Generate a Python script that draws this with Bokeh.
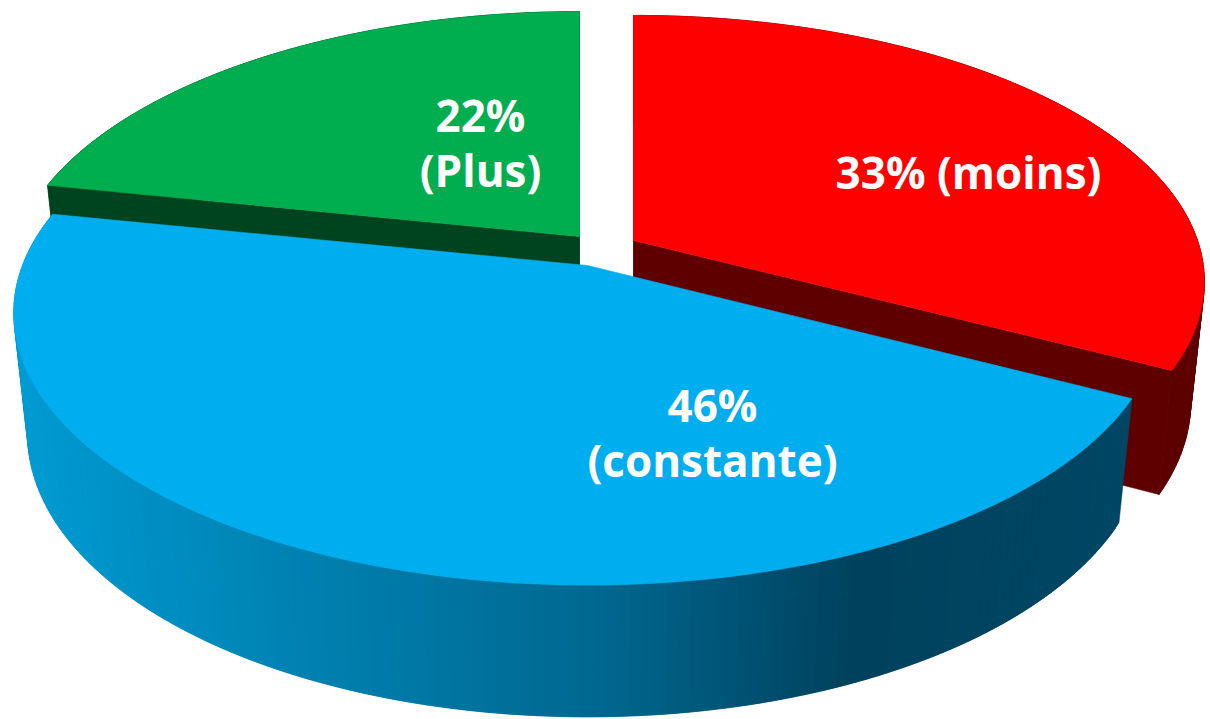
import numpy as np
from bokeh.plotting import figure
from bokeh.embed import file_html
from bokeh.resources import INLINE
from bokeh.core.properties import value

# data
categories = ["moins", "constante", "Plus"]
shares = [33, 46, 22]
top_colors = ["#FF0000", "#00AEEF", "#00AD4F"]
wall_colors = ["#5E0000", "#004A68", "#00441F"]
label_lines = [["33% (moins)"], ["46%", "(constante)"], ["22%", "(Plus)"]]

# layout
SCREEN_W, SCREEN_H = 1210, 719
PAD = 8
START_DEG = 90.0
APEX = {"moins": (633, 240), "constante": (587, 265), "Plus": (579, 236)}
RXS = {"moins": 564.0, "constante": 565.0, "Plus": 562.0}
RYS = {"moins": 260.0, "constante": 264.0, "Plus": 264.0}
KS = {"moins": 0.155, "constante": 0.174, "Plus": 0.174}
TX, TY, DROP = 0.976, 1.04, 119.0
LABEL_POS = {"moins": [(968, 171)], "constante": [(712, 404), (712, 459)], "Plus": [(480, 114), (480, 169)]}
GRAD_X = [20, 300, 600, 850, 1130]
GRAD_RGB = [(0, 156, 212), (0, 130, 178), (0, 104, 144), (0, 66, 94), (0, 72, 102)]

p = figure(width=SCREEN_W + PAD, height=SCREEN_H + PAD,
           x_range=(-PAD, SCREEN_W), y_range=(SCREEN_H, -PAD),
           output_backend="svg", toolbar_location=None, min_border=0,
           outline_line_color=None, margin=(-PAD, -PAD, -PAD, -PAD))
p.axis.visible = False
p.grid.visible = False


def top_pt(name, deg):
    apex = APEX[name]
    t = np.radians(deg)
    X, Y = np.cos(t), np.sin(t)
    s = 1 / (1 + KS[name] * Y)
    return apex[0] + RXS[name] * X * s, apex[1] - RYS[name] * Y * s


def bot_pt(apex, x, y):
    return apex[0] + TX * (x - apex[0]), apex[1] + DROP + TY * (y - apex[1])


total = sum(shares)
sweeps = [v / total * 360 for v in shares]
starts = START_DEG - np.cumsum([0] + sweeps[:-1])


def draw_slice(i):
    name = categories[i]
    apex = APEX[name]
    angs = np.linspace(starts[i], starts[i] - sweeps[i], 160)
    tx, ty = top_pt(name, angs)
    bx, by = bot_pt(apex, tx, ty)
    ax2, ay2 = bot_pt(apex, apex[0], apex[1])
    xs, ys, cols = [], [], []
    # outer wall, strip by strip; each strip reaches into the next one
    for k in range(len(angs) - 1):
        n = min(k + 2, len(angs) - 1)
        xs.append([tx[k], tx[n], bx[n], bx[k]])
        ys.append([ty[k], ty[n], by[n], by[k]])
        if name == "constante":
            xm = (bx[k] + bx[k + 1]) / 2
            rgb = [np.interp(xm, GRAD_X, [c[j] for c in GRAD_RGB]) for j in range(3)]
            cols.append("#%02x%02x%02x" % tuple(int(v) for v in rgb))
        else:
            cols.append(wall_colors[i])
    # radial walls; those of the front slice face away and stay hidden
    if name != "constante":
        for k in (0, -1):
            xs.append([apex[0], tx[k], bx[k], ax2])
            ys.append([apex[1], ty[k], by[k], ay2])
            cols.append(wall_colors[i])
    p.patches(xs, ys, fill_color=cols, line_color=cols, line_width=0.5)
    p.patch(np.r_[apex[0], tx], np.r_[apex[1], ty], fill_color=top_colors[i],
            line_color=top_colors[i], line_width=0.6)


for i in (2, 0, 1):
    draw_slice(i)

for i, name in enumerate(categories):
    for line, (x, y) in zip(label_lines[i], LABEL_POS[name]):
        p.text([x], [y], text=[line], text_color="white", text_align="center",
               text_baseline="alphabetic", text_font=value("Open Sans"),
               text_font_size="44px", text_font_style="bold")

open("out.html", "w").write(file_html(p, INLINE))
